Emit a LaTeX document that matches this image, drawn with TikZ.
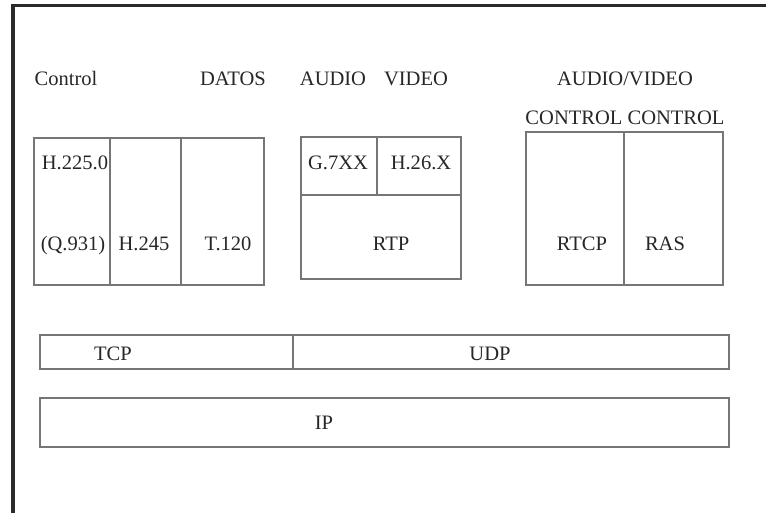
\documentclass[tikz,border=0pt]{standalone}
\usepackage{fontspec}
\setmainfont{Liberation Serif}
\usetikzlibrary{fit}
\definecolor{framec}{HTML}{2A2A2A}
\definecolor{boxc}{HTML}{767676}
\definecolor{txtc}{HTML}{262626}
\begin{document}
\begin{tikzpicture}[x=0.75pt,y=-0.75pt,
  box/.style={draw=boxc,line width=0.95pt,inner sep=0pt},
  divline/.style={draw=boxc,line width=0.95pt},
  lbl/.style={anchor=base,inner sep=0pt,text=txtc,font=\fontsize{15.4}{18}\selectfont},
  frameline/.style={draw=framec,line width=2.6pt}]
\useasboundingbox (0,0) rectangle (766,513);
% outer frame (top and left edges)
\coordinate (fbl) at (13,513);
\coordinate (ftl) at (13,5.5);
\coordinate (ftr) at (766,5.5);
\draw[frameline] (fbl) -- (ftl) -- (ftr);
% heading labels
\node[lbl] (lcontrol) at (66,86) {Control};
\node[lbl] (ldatos) at (233,86) {DATOS};
\node[lbl] (laudio) at (333,86) {AUDIO};
\node[lbl] (lvideo) at (416,86) {VIDEO};
\node[lbl] (lav) at (625,86) {AUDIO/VIDEO};
\node[lbl] (lcc) at (625,125) {CONTROL CONTROL};
% control block
\coordinate (ctltl) at (34,138); \coordinate (ctlbr) at (264,285);
\node[box,fit=(ctltl)(ctlbr)] (ctl) {};
\coordinate (c1t) at (110,138); \coordinate (c1b) at (110,285);
\coordinate (c2t) at (181,138); \coordinate (c2b) at (181,285);
\draw[divline] (c1t) -- (c1b);
\draw[divline] (c2t) -- (c2b);
\node[lbl] (h225) at (75,170) {H.225.0};
\node[lbl] (q931) at (73,250) {(Q.931)};
\node[lbl] (h245) at (144,250) {H.245};
\node[lbl] (t120) at (228,250) {T.120};
% audio/video block
\coordinate (avtl) at (301,137); \coordinate (avbr) at (461,279);
\node[box,fit=(avtl)(avbr)] (av) {};
\coordinate (avhl) at (301,195); \coordinate (avhr) at (461,195);
\coordinate (avvt) at (377,137); \coordinate (avvb) at (377,195);
\draw[divline] (avhl) -- (avhr);
\draw[divline] (avvt) -- (avvb);
\node[lbl] (g7xx) at (338,170) {G.7XX};
\node[lbl] (h26x) at (421,170) {H.26.X};
\node[lbl] (rtp) at (391,250) {RTP};
% control block A/V
\coordinate (avctl) at (526,132); \coordinate (avcbr) at (723,285);
\node[box,fit=(avctl)(avcbr)] (avc) {};
\coordinate (avct) at (624,132); \coordinate (avcb) at (624,285);
\draw[divline] (avct) -- (avcb);
\node[lbl] (rtcp) at (582,250) {RTCP};
\node[lbl] (ras) at (665,250) {RAS};
% transport
\coordinate (trtl) at (40,335); \coordinate (trbr) at (729,369);
\node[box,fit=(trtl)(trbr)] (tr) {};
\coordinate (trt) at (293,335); \coordinate (trb) at (293,369);
\draw[divline] (trt) -- (trb);
\node[lbl] (tcp) at (113,360) {TCP};
\node[lbl] (udp) at (490,360) {UDP};
% network
\coordinate (iptl) at (40,398); \coordinate (ipbr) at (729,447);
\node[box,fit=(iptl)(ipbr)] (ip) {};
\node[lbl] (iplbl) at (324,429) {IP};
\end{tikzpicture}
\end{document}
